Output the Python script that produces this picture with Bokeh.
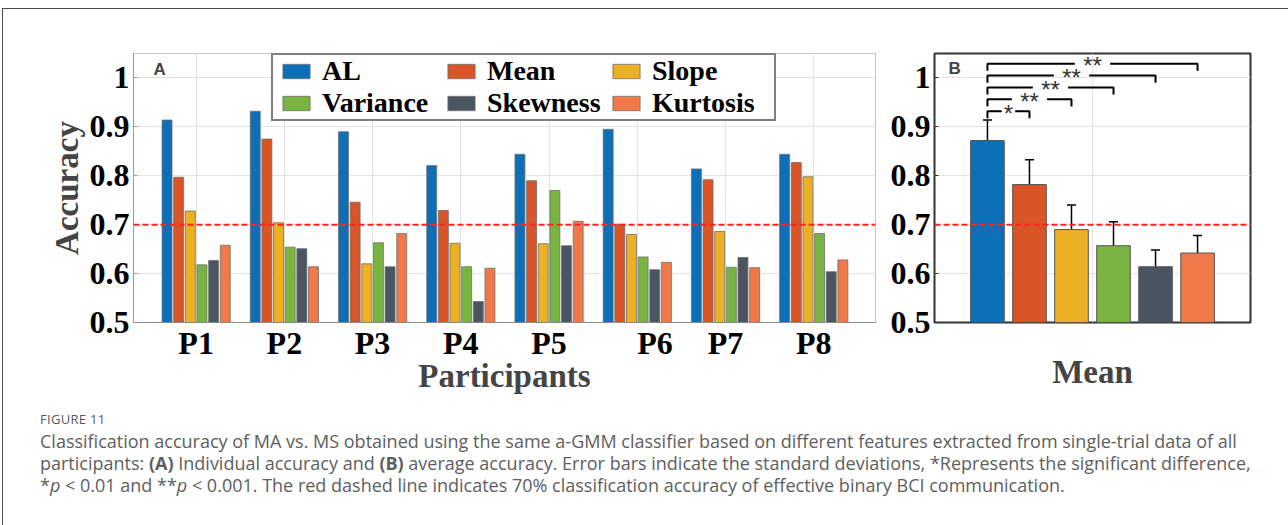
from bokeh.plotting import figure
from bokeh.layouts import row, column
from bokeh.models import (ColumnDataSource, Legend, LegendItem, Span, Whisker,
                          Label, FixedTicker, Div, TeeHead)
from bokeh.embed import file_html
from bokeh.resources import INLINE

# ---- data -------------------------------------------------------------
participants = ["P1", "P2", "P3", "P4", "P5", "P6", "P7", "P8"]
features = ["AL", "Mean", "Slope", "Variance", "Skewness", "Kurtosis"]

acc_al       = [0.914, 0.932, 0.890, 0.821, 0.844, 0.895, 0.814, 0.844]
acc_mean     = [0.797, 0.875, 0.746, 0.729, 0.790, 0.701, 0.792, 0.827]
acc_slope    = [0.728, 0.704, 0.620, 0.662, 0.661, 0.680, 0.686, 0.798]
acc_variance = [0.618, 0.654, 0.663, 0.614, 0.770, 0.634, 0.613, 0.682]
acc_skewness = [0.627, 0.651, 0.614, 0.543, 0.657, 0.608, 0.633, 0.604]
acc_kurtosis = [0.658, 0.614, 0.682, 0.611, 0.707, 0.623, 0.612, 0.628]

mean_acc = [0.872, 0.782, 0.690, 0.657, 0.614, 0.642]
std_acc  = [0.042, 0.051, 0.050, 0.049, 0.034, 0.036]

threshold = 0.70
y_ticks = [0.5, 0.6, 0.7, 0.8, 0.9, 1.0]

# significance of AL against each other feature (index into features)
sig_marks = [(1, "*"), (2, "**"), (3, "**"), (4, "**"), (5, "**")]

# ---- styling ----------------------------------------------------------
colors = ["#0c6fb8", "#d95427", "#ebb024", "#79b442", "#4b5561", "#f07849"]
SERIF = "Liberation Serif"
SANS = "Liberation Sans"

series = [acc_al, acc_mean, acc_slope, acc_variance, acc_skewness, acc_kurtosis]

FIG_H = 393
BORDER_TOP = 44
BORDER_BOTTOM = 80


def style_y(p):
    p.yaxis.ticker = FixedTicker(ticks=y_ticks)
    p.yaxis.major_label_overrides = {1.0: "1"}
    p.yaxis.major_label_text_font = SERIF
    p.yaxis.major_label_text_font_style = "bold"
    p.yaxis.major_label_text_font_size = "32px"
    p.yaxis.major_label_text_color = "black"
    p.yaxis.major_label_standoff = 4
    p.yaxis.major_tick_in = 4
    p.yaxis.major_tick_out = 0
    p.yaxis.minor_tick_line_color = None
    p.ygrid.ticker = FixedTicker(ticks=y_ticks)
    p.ygrid.grid_line_color = "#e3e3e3"
    p.ygrid.grid_line_width = 1


# ---- panel A: individual accuracy --------------------------------------
pA = figure(width=877, height=FIG_H, x_range=(0.29, 8.7), y_range=(0.5, 1.05),
            output_backend="svg", toolbar_location=None,
            min_border_left=130, min_border_right=5,
            min_border_top=BORDER_TOP, min_border_bottom=BORDER_BOTTOM)
pA.outline_line_color = "#c4c4c4"
pA.outline_line_width = 1
style_y(pA)
pA.yaxis.axis_line_color = "#9a9a9a"
pA.yaxis.major_tick_line_color = "#9a9a9a"
pA.yaxis.axis_label = "Accuracy"
pA.yaxis.axis_label_text_font = SERIF
pA.yaxis.axis_label_text_font_style = "bold"
pA.yaxis.axis_label_text_font_size = "33px"
pA.yaxis.axis_label_standoff = 2

group_pos = list(range(1, len(participants) + 1))
label_pos = [1, 2, 3, 4, 5, 6.2, 7, 8]
pA.xaxis.ticker = FixedTicker(ticks=label_pos)
pA.xaxis.major_label_overrides = {lp: name for lp, name in zip(label_pos, participants)}
pA.xaxis.major_label_text_font = SERIF
pA.xaxis.major_label_text_font_style = "bold"
pA.xaxis.major_label_text_font_size = "32px"
pA.xaxis.major_label_text_color = "black"
pA.xaxis.major_label_standoff = -4
pA.xaxis.major_tick_line_color = None
pA.xaxis.minor_tick_line_color = None
pA.xaxis.axis_line_color = "#8a8a8a"
pA.xaxis.axis_label = "Participants"
pA.xaxis.axis_label_text_font = SERIF
pA.xaxis.axis_label_text_font_style = "bold"
pA.xaxis.axis_label_text_font_size = "33px"
pA.xaxis.axis_label_standoff = -6
pA.xgrid.ticker = FixedTicker(ticks=group_pos)
pA.xgrid.grid_line_color = "#e3e3e3"

bar_pitch = 0.132
bar_w = 0.113
renderers = []
for i, (name, vals) in enumerate(zip(features, series)):
    off = (i - (len(features) - 1) / 2) * bar_pitch
    src = ColumnDataSource(dict(x=[g + off for g in group_pos], top=vals))
    r = pA.vbar(x="x", top="top", bottom=0.5, width=bar_w, source=src,
                fill_color=colors[i], line_color="#6e6e6e", line_width=0.8)
    renderers.append(r)

pA.add_layout(Span(location=threshold, dimension="width", line_color="#ff2424",
                   line_dash="6 3", line_width=2))

legend = Legend(items=[LegendItem(label=n, renderers=[r]) for n, r in zip(features, renderers)],
                location=(138, 201), orientation="horizontal", ncols=3)
legend.label_text_font = SERIF
legend.label_text_font_style = "bold"
legend.label_text_font_size = "28px"
legend.label_text_color = "black"
legend.glyph_width = 34
legend.glyph_height = 18
legend.label_standoff = 9
legend.label_width = 122
legend.spacing = 0
legend.padding = dict(left=6, right=0, top=0, bottom=0)
legend.margin = 0
legend.label_height = 22
legend.border_line_color = "black"
legend.border_line_width = 2
legend.background_fill_alpha = 1
pA.add_layout(legend)

pA.add_layout(Label(x=20, y=244, x_units="screen", y_units="screen", text="A",
                    text_font=SANS, text_font_style="bold", text_font_size="17px"))

# ---- panel B: mean accuracy --------------------------------------------
feat_pos = list(range(1, len(features) + 1))
pB = figure(width=408, height=FIG_H, x_range=(-0.26, 7.26), y_range=(0.5, 1.05),
            output_backend="svg", toolbar_location=None,
            min_border_left=54, min_border_right=38,
            min_border_top=BORDER_TOP, min_border_bottom=BORDER_BOTTOM)
pB.outline_line_color = "#333333"
pB.outline_line_width = 2
style_y(pB)
pB.yaxis.axis_line_color = None
pB.yaxis.major_tick_line_color = "#333333"
pB.xaxis.ticker = FixedTicker(ticks=[3.5])
pB.xaxis.major_label_overrides = {3.5: " "}
pB.xaxis.major_label_text_font_size = "32px"
pB.xaxis.major_label_standoff = 0
pB.xaxis.major_tick_line_color = None
pB.xaxis.axis_line_color = None
pB.xaxis.axis_label = "Mean"
pB.xaxis.axis_label_text_font = SERIF
pB.xaxis.axis_label_text_font_style = "bold"
pB.xaxis.axis_label_text_font_size = "33px"
pB.xaxis.axis_label_standoff = -14
pB.xgrid.ticker = FixedTicker(ticks=[3.5])
pB.xgrid.grid_line_color = "#e3e3e3"

srcB = ColumnDataSource(dict(
    x=feat_pos, top=mean_acc, color=colors,
    upper=[m + s for m, s in zip(mean_acc, std_acc)],
    lower=[m - s for m, s in zip(mean_acc, std_acc)]))
pB.vbar(x="x", top="top", bottom=0.5, width=0.8, source=srcB,
        fill_color="color", line_color="#555555", line_width=1)
pB.add_layout(Span(location=threshold, dimension="width", line_color="#ff2424",
                   line_dash="6 3", line_width=2))
pB.add_layout(Whisker(source=srcB, base="x", upper="upper", lower="lower",
                      line_color="black", line_width=1.5,
                      upper_head=TeeHead(size=9, line_color="black", line_width=1.5),
                      lower_head=TeeHead(size=9, line_color="black", line_width=1.5)))

# significance brackets from AL to each other feature
base_level = 0.932
level_step = 0.0243
drop = 0.0145
xs, ys, sx, sy, st = [], [], [], [], []
for k, (j, mark) in enumerate(sig_marks):
    x0, x1 = feat_pos[0], feat_pos[j]
    lvl = base_level + k * level_step
    mid = (x0 + x1) / 2
    half_gap = 0.16 if mark == "*" else 0.42
    xs.append([x0, x0, mid - half_gap])
    ys.append([lvl - drop, lvl, lvl])
    xs.append([mid + half_gap, x1, x1])
    ys.append([lvl, lvl, lvl - drop])
    sx.append(mid)
    sy.append(lvl)
    st.append(mark)
pB.multi_line(xs=xs, ys=ys, line_color="black", line_width=2)
pB.text(x=sx, y=sy, text=st, text_align="center", text_baseline="middle",
        text_font_size="24px", text_color="#333333", y_offset=2)

pB.add_layout(Label(x=14, y=245, x_units="screen", y_units="screen", text="B",
                    text_font=SANS, text_font_style="bold", text_font_size="17px"))

# ---- caption -----------------------------------------------------------
caption = Div(
    text=(
        '<div style="font-size:13px; letter-spacing:0.3px; color:#5a5a5a; margin-bottom:1px;">FIGURE 11</div>'
        '<div style="font-size:18px; line-height:22px; color:#5e5e5e; white-space:nowrap;">'
        'Classification accuracy of MA vs. MS obtained using the same a-GMM classifier based on different features extracted from single-trial data of all<br>'
        'participants: <b>(A)</b> Individual accuracy and <b>(B)</b> average accuracy. Error bars indicate the standard deviations, *Represents the significant difference,<br>'
        '*<i>p</i> &lt; 0.01 and **<i>p</i> &lt; 0.001. The red dashed line indicates 70% classification accuracy of effective binary BCI communication.'
        '</div>'
    ),
    width=1250, height=110,
    styles={"font-family": "'Open Sans', sans-serif", "margin-left": "37px", "margin-top": "8px"},
)

page = column(row(pA, pB), caption,
              styles={"border-top": "1px solid #4a4a4a", "border-left": "1px solid #4a4a4a",
                      "margin-top": "8px", "margin-left": "2px"})

open("out.html", "w").write(file_html(page, INLINE))
